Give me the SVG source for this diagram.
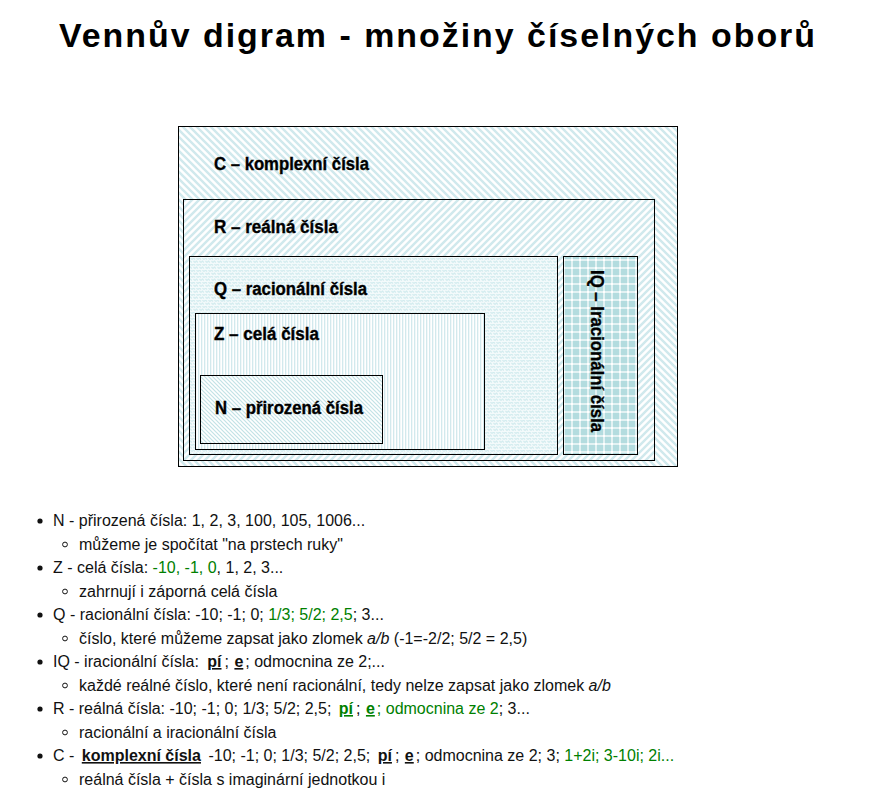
<svg xmlns="http://www.w3.org/2000/svg" width="876" height="812" viewBox="0 0 876 812">
<style>
.title{font-family:"Liberation Sans",Arial,sans-serif;font-weight:bold;font-size:34px;fill:#000;letter-spacing:2px}
.lbl{font-family:"Liberation Sans",Arial,sans-serif;font-weight:bold;font-size:17.5px;fill:#000;stroke:#000;stroke-width:0.35}
.box{stroke:#000;stroke-width:1}
.li{font-family:"Liberation Sans",Arial,sans-serif;font-size:16px;fill:#111}
.g{fill:#008000}
.bu{font-weight:bold;text-decoration:underline}
.it{font-style:italic}
.dot{fill:#111}
.circ{fill:none;stroke:#111;stroke-width:1}
</style>
<defs>
<pattern id="pC" width="7" height="7" patternUnits="userSpaceOnUse">
<rect width="7" height="7" fill="#fff"/>
<path d="M-1,-1 L8,8 M-1,6 L1,8 M6,-1 L8,1" stroke="#d0e9ed" stroke-width="2.4"/>
</pattern>
<pattern id="pR" width="7" height="7" patternUnits="userSpaceOnUse">
<rect width="7" height="7" fill="#fff"/>
<path d="M-1,8 L8,-1 M-1,1 L1,-1 M6,8 L8,6" stroke="#d0e9ed" stroke-width="2.4"/>
</pattern>
<pattern id="pQ" width="6" height="6" patternUnits="userSpaceOnUse">
<rect width="6" height="6" fill="#f3fafb"/>
<path d="M0,1.5 L1.5,0 L3,1.5 M3,4.5 L4.5,3 L6,4.5 M1.5,3 L3,4.5 M4.5,0 L6,1.5" stroke="#d3ecef" stroke-width="1.2" fill="none"/>
</pattern>
<pattern id="pZ" width="3" height="3" patternUnits="userSpaceOnUse">
<rect width="3" height="3" fill="#fff"/>
<rect x="0" y="0" width="1.3" height="3" fill="#d2e9ed"/>
</pattern>
<pattern id="pN" width="4" height="4" patternUnits="userSpaceOnUse">
<rect width="4" height="4" fill="#fff"/>
<path d="M-1,-1 L5,5 M-1,3 L1,5 M3,-1 L5,1" stroke="#c2e2e6" stroke-width="1.2"/>
</pattern>
<pattern id="pIQ" width="8" height="8" patternUnits="userSpaceOnUse">
<rect width="8" height="8" fill="#b3dcdf"/>
<rect x="0" y="3" width="8" height="2" fill="#e3f2f3"/>
<rect x="3" y="0" width="2" height="8" fill="#e3f2f3"/>
<rect x="3" y="3" width="2" height="2" fill="#fff"/>
</pattern>
</defs>
<rect width="876" height="812" fill="#fff"/>
<text class="title" x="59" y="47" textLength="758" lengthAdjust="spacingAndGlyphs">Vennův digram - množiny číselných oborů</text>

<g id="node-C">
<rect class="box" x="178.5" y="126.5" width="499" height="340" fill="url(#pC)"/>
<text class="lbl" x="214" y="169.5" textLength="155" lengthAdjust="spacingAndGlyphs">C – komplexní čísla</text>
</g>
<g id="node-R">
<rect class="box" x="183.5" y="199.5" width="471" height="261" fill="url(#pR)"/>
<text class="lbl" x="214" y="233" textLength="124" lengthAdjust="spacingAndGlyphs">R – reálná čísla</text>
</g>
<g id="node-Q">
<rect class="box" x="189.5" y="256.5" width="368" height="198" fill="url(#pQ)"/>
<text class="lbl" x="214" y="295" textLength="153" lengthAdjust="spacingAndGlyphs">Q – racionální čísla</text>
</g>
<g id="node-Z">
<rect class="box" x="195.5" y="313.5" width="289" height="136" fill="url(#pZ)"/>
<text class="lbl" x="214" y="340" textLength="105" lengthAdjust="spacingAndGlyphs">Z – celá čísla</text>
</g>
<g id="node-N">
<rect class="box" x="200.5" y="375.5" width="182" height="68" fill="url(#pN)"/>
<text class="lbl" x="215" y="414" textLength="148" lengthAdjust="spacingAndGlyphs">N – přirozená čísla</text>
</g>
<g id="node-IQ">
<rect class="box" x="563.5" y="256.5" width="74" height="198" fill="url(#pIQ)"/>
<text class="lbl" transform="translate(591,270) rotate(90)" x="0" y="0" textLength="162" lengthAdjust="spacingAndGlyphs">IQ – Iracionální čísla</text>
</g>
<g id="connectors"></g>

<g id="list">
<circle class="dot" cx="40" cy="521" r="2.6"/>
<text class="li" x="53" y="526">N - přirozená čísla: 1, 2, 3, 100, 105, 1006...</text>
<circle class="circ" cx="65" cy="544.5" r="2.4"/>
<text class="li" x="79" y="549.5">můžeme je spočítat "na prstech ruky"</text>

<circle class="dot" cx="40" cy="568" r="2.6"/>
<text class="li" x="53" y="573">Z - celá čísla: <tspan class="g">-10, -1, 0</tspan>, 1, 2, 3...</text>
<circle class="circ" cx="65" cy="591.5" r="2.4"/>
<text class="li" x="79" y="596.5">zahrnují i záporná celá čísla</text>

<circle class="dot" cx="40" cy="615" r="2.6"/>
<text class="li" x="53" y="620">Q - racionální čísla: -10; -1; 0; <tspan class="g">1/3; 5/2; 2,5</tspan>; 3...</text>
<circle class="circ" cx="65" cy="638.5" r="2.4"/>
<text class="li" x="79" y="643.5">číslo, které můžeme zapsat jako zlomek <tspan class="it">a/b</tspan> (-1=-2/2; 5/2 = 2,5)</text>

<circle class="dot" cx="40" cy="662" r="2.6"/>
<text class="li" x="53" y="667">IQ - iracionální čísla: <tspan class="bu" dx="4">pí</tspan><tspan dx="3">;</tspan> <tspan class="bu" dx="1">e</tspan><tspan dx="2">; odmocnina ze 2;...</tspan></text>
<circle class="circ" cx="65" cy="685.5" r="2.4"/>
<text class="li" x="79" y="690.5">každé reálné číslo, které není racionální, tedy nelze zapsat jako zlomek <tspan class="it">a/b</tspan></text>

<circle class="dot" cx="40" cy="709" r="2.6"/>
<text class="li" x="53" y="714">R - reálná čísla: -10; -1; 0; 1/3; 5/2; 2,5; <tspan class="bu g" dx="3">pí</tspan><tspan dx="3">;</tspan> <tspan class="bu g" dx="1">e</tspan><tspan class="g" dx="2">; odmocnina ze 2</tspan>; 3...</text>
<circle class="circ" cx="65" cy="732.5" r="2.4"/>
<text class="li" x="79" y="737.5">racionální a iracionální čísla</text>

<circle class="dot" cx="40" cy="756" r="2.6"/>
<text class="li" x="53" y="761">C - <tspan class="bu" dx="3">komplexní čísla</tspan><tspan dx="3"> -10; -1; 0; 1/3; 5/2; 2,5; </tspan><tspan class="bu" dx="3">pí</tspan><tspan dx="3">;</tspan> <tspan class="bu" dx="1">e</tspan><tspan dx="2">; odmocnina ze 2; 3; </tspan><tspan class="g">1+2i; 3-10i; 2i...</tspan></text>
<circle class="circ" cx="65" cy="779.5" r="2.4"/>
<text class="li" x="79" y="784.5">reálná čísla + čísla s imaginární jednotkou i</text>
</g>
</svg>
